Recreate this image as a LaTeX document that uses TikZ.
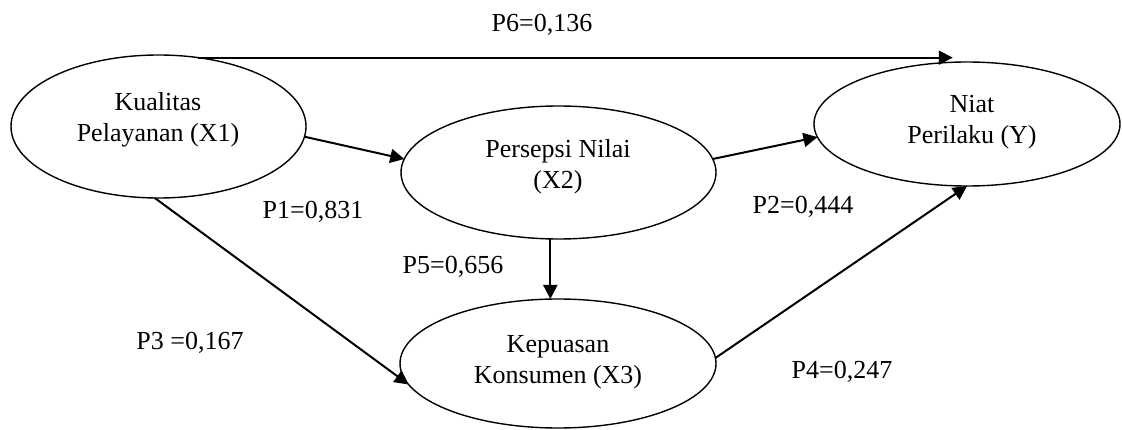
\documentclass[tikz,border=0pt]{standalone}
\usepackage{fontspec}
\setmainfont{Liberation Serif}
\usetikzlibrary{shapes.geometric,arrows.meta}
\begin{document}
\begin{tikzpicture}[x=1pt,y=-1pt,
  oval/.style={ellipse,draw=black,line width=1.4pt,inner sep=0pt,outer sep=0pt},
  lbl/.style={font=\fontsize{26}{31}\selectfont,align=center,inner sep=0pt},
  arr/.style={line width=2pt,-{Triangle[length=14pt,width=14pt]}}]
\useasboundingbox (0,0) rectangle (1122,430);
\node[oval,minimum width=295pt,minimum height=143pt] (X1) at (158.5,126.5) {};
\node[oval,minimum width=315pt,minimum height=133pt] (X2) at (558.5,172.5) {};
\node[oval,minimum width=306pt,minimum height=124pt] (Y) at (967,124) {};
\node[oval,minimum width=316pt,minimum height=129pt] (X3) at (558,363.5) {};
\node[lbl] (tX1) at (158,120) {Kualitas\\Pelayanan (X1)};
\node[lbl] (tX2) at (558,167) {Persepsi Nilai\\(X2)};
\node[lbl] (tY) at (972,122) {Niat\\Perilaku (Y)};
\node[lbl] (tX3) at (558,362) {Kepuasan\\Konsumen (X3)};
\node[lbl] (p6) at (542,25) {P6=0,136};
\node[lbl] (p1) at (313,212) {P1=0,831};
\node[lbl] (p5) at (453,267) {P5=0,656};
\node[lbl] (p3) at (190,343) {P3 =0,167};
\node[lbl] (p2) at (803,207) {P2=0,444};
\node[lbl] (p4) at (842,372) {P4=0,247};
\coordinate (p6end) at (X1.60 -| Y.103.6);
\draw[arr] (X1.60) -- (p6end);
\draw[arr] (X1.-4.5) -- (X2.175.5);
\draw[arr] (X1.-93) -- (X3.188);
\draw[arr] (X2.-97) -- (X3.north -| X2.-97);
\draw[arr] (X2.5) -- (Y.185);
\draw[arr] (X3.2) -- (Y.south);
\end{tikzpicture}
\end{document}
